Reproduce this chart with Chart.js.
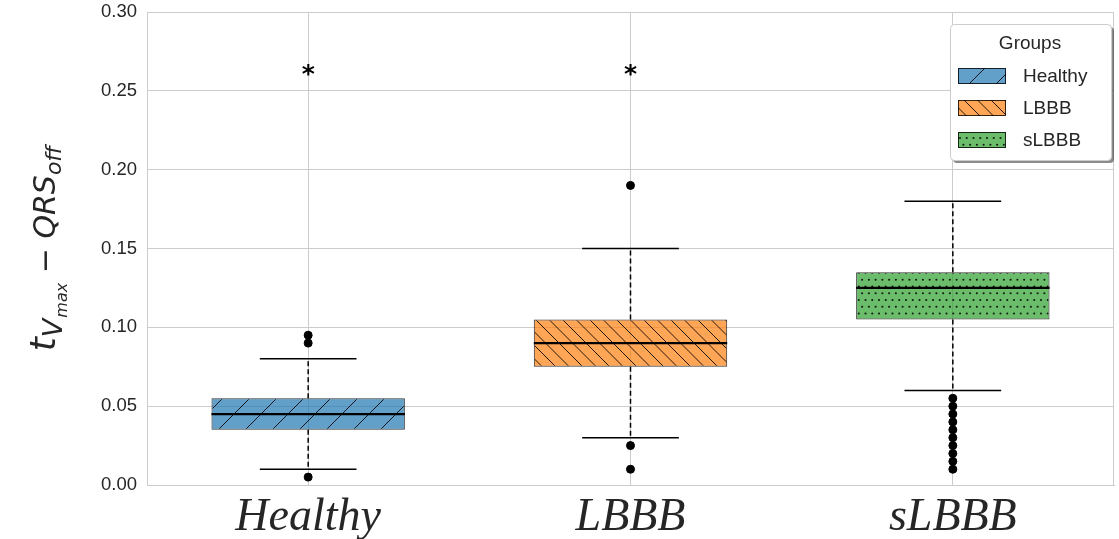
<!DOCTYPE html>
<html>
<head>
<meta charset="utf-8">
<script src="https://cdn.jsdelivr.net/npm/chart.js@4/dist/chart.umd.min.js"></script>
<style>
    body { margin: 0; background: #fff; }
    #wrap { width: 1119px; height: 539px; }
</style>
</head>
<body>
<div id="wrap"><canvas id="chart"></canvas></div>
<script>
const groups = ["Healthy", "LBBB", "sLBBB"];
const q1 = [0.035, 0.075, 0.105];
const medians = [0.045, 0.09, 0.125];
const q3 = [0.055, 0.105, 0.135];
const whiskerLow = [0.01, 0.03, 0.06];
const whiskerHigh = [0.08, 0.15, 0.18];
const outliersHealthy = [0.095, 0.09, 0.005];
const outliersLBBB = [0.19, 0.025, 0.01];
const outliersSLBBB = [0.055, 0.05, 0.045, 0.04, 0.035, 0.03, 0.025, 0.02, 0.015, 0.01];
const starValues = [0.263, 0.263, null];
const yTicks = [0, 0.05, 0.1, 0.15, 0.2, 0.25, 0.3];

const faceColors = ["rgba(31,119,180,0.7)", "rgba(255,127,14,0.7)", "rgba(44,160,44,0.7)"];
const hatchKinds = ["/", "\\\\", ".."];
const ink = "#262626";

function makeHatch(face, kind) {
    const size = 27;
    const c = document.createElement("canvas");
    c.width = size;
    c.height = size;
    const g = c.getContext("2d");
    g.fillStyle = face;
    g.fillRect(0, 0, size, size);
    g.strokeStyle = "rgba(0,0,0,0.85)";
    g.fillStyle = "rgba(0,0,0,0.85)";
    g.lineWidth = 1;
    if (kind === "/") {
        for (let k = -1; k <= 1; k++) {
            g.beginPath();
            g.moveTo(k * size, size);
            g.lineTo(k * size + size, 0);
            g.stroke();
        }
    } else if (kind === "\\\\") {
        const step = size / 2;
        for (let k = -2; k <= 2; k++) {
            g.beginPath();
            g.moveTo(k * step, 0);
            g.lineTo(k * step + size, size);
            g.stroke();
        }
    } else {
        const step = size / 4;
        for (let i = 0; i < 4; i++) {
            for (let j = 0; j < 4; j++) {
                const x = j * step + (i % 2 ? step / 2 : 0) + 1.5;
                const y = i * step + 3;
                g.beginPath();
                g.arc(x, y, 1.05, 0, Math.PI * 2);
                g.fill();
            }
        }
    }
    return g.createPattern(c, "repeat");
}

const patterns = faceColors.map((f, i) => makeHatch(f, hatchKinds[i]));

const outlierPoints = [
    ...outliersHealthy.map((v) => ({ x: groups[0], y: v })),
    ...outliersLBBB.map((v) => ({ x: groups[1], y: v })),
    ...outliersSLBBB.map((v) => ({ x: groups[2], y: v })),
];

// whiskers, caps, medians, stars, frame, legend and axis title
const boxExtras = {
    id: "boxExtras",
    afterDatasetsDraw(chart) {
        const { ctx, scales: { x, y } } = chart;
        const w = x.getPixelForValue(1) - x.getPixelForValue(0);
        ctx.save();
        groups.forEach((g, i) => {
            const cx = x.getPixelForValue(i);
            ctx.strokeStyle = "#000";
            ctx.lineWidth = 1.5;
            ctx.setLineDash([5, 3]);
            ctx.beginPath();
            ctx.moveTo(cx, y.getPixelForValue(q3[i]));
            ctx.lineTo(cx, y.getPixelForValue(whiskerHigh[i]));
            ctx.moveTo(cx, y.getPixelForValue(q1[i]));
            ctx.lineTo(cx, y.getPixelForValue(whiskerLow[i]));
            ctx.stroke();
            ctx.setLineDash([]);
            ctx.beginPath();
            [whiskerHigh[i], whiskerLow[i]].forEach((v) => {
                ctx.moveTo(cx - w * 0.15, y.getPixelForValue(v));
                ctx.lineTo(cx + w * 0.15, y.getPixelForValue(v));
            });
            ctx.stroke();
            ctx.lineWidth = 2.2;
            ctx.beginPath();
            ctx.moveTo(cx - w * 0.3, y.getPixelForValue(medians[i]));
            ctx.lineTo(cx + w * 0.3, y.getPixelForValue(medians[i]));
            ctx.stroke();
            if (starValues[i] != null) {
                ctx.fillStyle = "#000";
                ctx.font = "bold 25px 'DejaVu Sans'";
                ctx.textAlign = "center";
                ctx.textBaseline = "middle";
                ctx.fillText("*", cx, y.getPixelForValue(starValues[i]) + 5);
            }
        });
        ctx.restore();
    },
    afterDraw(chart) {
        const { ctx, chartArea: a } = chart;
        ctx.save();
        ctx.strokeStyle = "#cccccc";
        ctx.lineWidth = 1;
        ctx.strokeRect(a.left + 0.5, a.top + 0.5, a.right - a.left - 1, a.bottom - a.top);

        // legend
        const lx = 950, ly = 24, lw = 161, lh = 136;
        ctx.fillStyle = "rgba(0,0,0,0.45)";
        ctx.beginPath();
        ctx.roundRect(lx + 3, ly + 3, lw, lh, 4);
        ctx.fill();
        ctx.fillStyle = "#fff";
        ctx.strokeStyle = "#cccccc";
        ctx.beginPath();
        ctx.roundRect(lx + 0.5, ly + 0.5, lw, lh, 4);
        ctx.fill();
        ctx.stroke();
        ctx.fillStyle = ink;
        ctx.font = "19px 'Liberation Sans'";
        ctx.textAlign = "center";
        ctx.textBaseline = "middle";
        ctx.fillText("Groups", 1030, 44);
        const rows = [76, 108, 140];
        groups.forEach((g, i) => {
            ctx.fillStyle = patterns[i];
            ctx.fillRect(958, rows[i] - 8, 48, 16);
            ctx.strokeStyle = "rgba(0,0,0,0.8)";
            ctx.strokeRect(958.5, rows[i] - 7.5, 47, 15);
            ctx.fillStyle = ink;
            ctx.textAlign = "left";
            ctx.fillText(g, 1023, rows[i] + 1);
        });

        // y axis title with subscripts
        const parts = [
            { t: "t", size: 36, dy: 0, gap: 0 },
            { t: "V", size: 27, dy: 7, gap: 1 },
            { t: "max", size: 16, dy: 12, gap: 0 },
            { t: " \u2212 ", size: 30, dy: 0, gap: 0, upright: true },
            { t: "QRS", size: 30, dy: 0, gap: 0 },
            { t: "off", size: 22, dy: 6, gap: 0 },
        ];
        const fontOf = (p) => (p.upright ? "" : "italic ") + p.size + "px 'DejaVu Sans'";
        let total = 0;
        parts.forEach((p) => {
            ctx.font = fontOf(p);
            p.w = ctx.measureText(p.t).width + p.gap;
            total += p.w;
        });
        ctx.translate(55, (a.top + a.bottom) / 2);
        ctx.rotate(-Math.PI / 2);
        ctx.fillStyle = ink;
        ctx.textAlign = "left";
        ctx.textBaseline = "alphabetic";
        let px = -total / 2;
        parts.forEach((p) => {
            ctx.font = fontOf(p);
            ctx.fillText(p.t, px, p.dy);
            px += p.w;
        });
        ctx.restore();
    },
};

new Chart(document.getElementById("chart"), {
    type: "bar",
    data: {
        labels: groups,
        datasets: [
            {
                type: "scatter",
                label: "outliers",
                data: outlierPoints,
                backgroundColor: "#000",
                borderColor: "#000",
                pointRadius: 4,
                pointHoverRadius: 4,
            },
            {
                label: "boxes",
                data: groups.map((g, i) => [q1[i], q3[i]]),
                backgroundColor: patterns,
                borderColor: "rgba(0,0,0,0.8)",
                borderWidth: 1,
                borderSkipped: false,
                categoryPercentage: 1,
                barPercentage: 0.6,
            },
        ],
    },
    options: {
        responsive: true,
        maintainAspectRatio: false,
        animation: false,
        layout: { padding: { top: 12, right: 1, left: 0, bottom: 0 } },
        plugins: {
            legend: { display: false },
            tooltip: { enabled: false },
        },
        scales: {
            x: {
                type: "category",
                offset: true,
                grid: { offset: false, color: "#cccccc", drawTicks: false },
                border: { color: "#cccccc" },
                ticks: {
                    padding: 5,
                    color: ink,
                    font: { family: "'Liberation Serif'", style: "italic", size: 46 },
                },
                afterFit: (s) => {
                    s.height = 54;
                    s.paddingLeft = 0;
                    s.paddingRight = 0;
                },
            },
            y: {
                min: 0,
                max: 0.3,
                afterBuildTicks: (s) => { s.ticks = yTicks.map((v) => ({ value: v })); },
                grid: { color: "#cccccc", drawTicks: false },
                border: { color: "#cccccc" },
                ticks: {
                    padding: 10,
                    color: ink,
                    font: { family: "'Liberation Sans'", size: 18.5 },
                    callback: (v) => v.toFixed(2),
                },
                afterFit: (s) => {
                    s.width = 147;
                    s.paddingTop = 0;
                    s.paddingBottom = 0;
                },
            },
        },
    },
    plugins: [boxExtras],
});
</script>
</body>
</html>
